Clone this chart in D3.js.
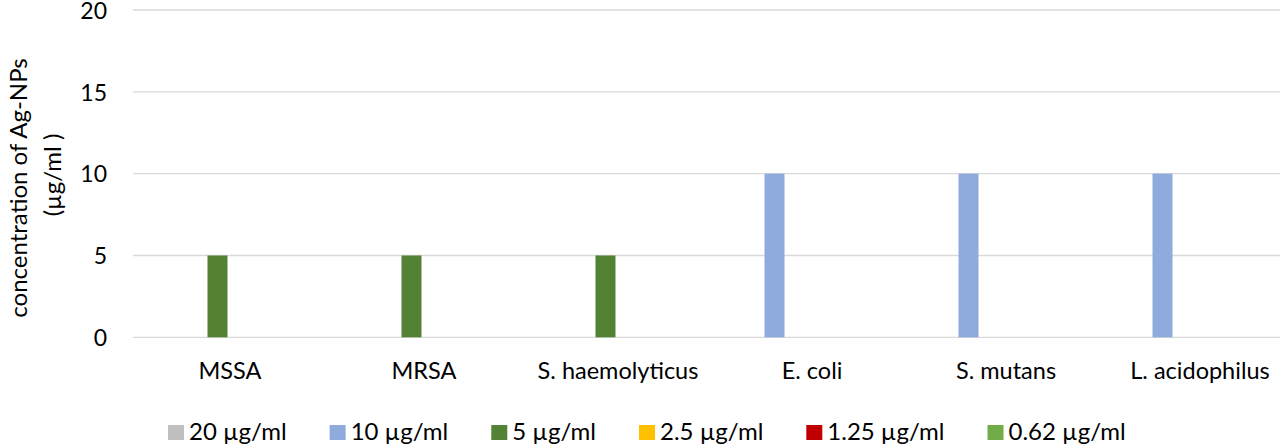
<!DOCTYPE html>
<html>
<head>
<meta charset="utf-8">
<script src="https://cdn.jsdelivr.net/npm/d3@7"></script>
<style>
  body { margin: 0; background: #fff; }
  text { font-family: Lato, "Open Sans", sans-serif; fill: #000; }
</style>
</head>
<body>
<script>
// data
var categories = ["MSSA", "MRSA", "S. haemolyticus", "E. coli", "S. mutans", "L. acidophilus"];
var seriesNames = ["20 \u00b5g/ml", "10 \u00b5g/ml", "5 \u00b5g/ml", "2.5 \u00b5g/ml", "1.25 \u00b5g/ml", "0.62 \u00b5g/ml"];
var conc20 = [0, 0, 0, 0, 0, 0];
var conc10 = [0, 0, 0, 10, 10, 10];
var conc5 = [5, 5, 5, 0, 0, 0];
var conc2_5 = [0, 0, 0, 0, 0, 0];
var conc1_25 = [0, 0, 0, 0, 0, 0];
var conc0_62 = [0, 0, 0, 0, 0, 0];
var yTicks = [0, 5, 10, 15, 20];

var colors = ["#bfbfbf", "#8faadc", "#548235", "#ffc000", "#c00000", "#70ad47"];
var allSeries = [conc20, conc10, conc5, conc2_5, conc1_25, conc0_62];

var width = 1280, height = 445;
var plot = { left: 133, right: 1297, top: 10, bottom: 337.3 };

var svg = d3.select("body").append("svg")
    .attr("width", width)
    .attr("height", height);

var x0 = d3.scaleBand().domain(categories).range([plot.left, plot.right]);
var x1 = d3.scaleBand().domain(d3.range(seriesNames.length))
    .range([0, x0.bandwidth()])
    .paddingInner(0.2)
    .paddingOuter(0.98);
var y = d3.scaleLinear().domain([0, 20]).range([plot.bottom, plot.top]);

// gridlines
svg.append("g")
    .selectAll("line")
    .data(yTicks)
    .enter()
    .append("line")
    .attr("x1", plot.left)
    .attr("x2", plot.right)
    .attr("y1", function (d) { return y(d); })
    .attr("y2", function (d) { return y(d); })
    .attr("stroke", "#d9d9d9")
    .attr("stroke-width", 1.3);

// y tick labels
var yAxis = d3.axisLeft(y).tickValues(yTicks).tickSize(0).tickPadding(0);
var gy = svg.append("g")
    .attr("transform", "translate(107,0)")
    .call(yAxis);
gy.select(".domain").remove();
gy.selectAll("text")
    .attr("dy", "0.36em")
    .style("font-family", "Lato, sans-serif")
    .style("font-size", "23px")
    .attr("fill", "#000");

// bars
var rows = [];
categories.forEach(function (c, ci) {
    allSeries.forEach(function (s, si) {
        rows.push({ cat: c, si: si, value: s[ci] });
    });
});

svg.append("g")
    .selectAll("rect")
    .data(rows.filter(function (d) { return d.value > 0; }))
    .enter()
    .append("rect")
    .attr("x", function (d) { return x0(d.cat) + x1(d.si); })
    .attr("y", function (d) { return y(d.value); })
    .attr("width", x1.bandwidth())
    .attr("height", function (d) { return y(0) - y(d.value); })
    .attr("fill", function (d) { return colors[d.si]; });

// category labels
var xAxis = d3.axisBottom(x0).tickSize(0).tickPadding(0);
var gx = svg.append("g")
    .attr("transform", "translate(0,362)")
    .call(xAxis);
gx.select(".domain").remove();
gx.selectAll("text")
    .attr("dy", "0.74em")
    .style("font-family", "Lato, sans-serif")
    .style("font-size", "23.5px")
    .attr("fill", "#000");

// y axis title
svg.append("text")
    .attr("transform", "translate(27,188) rotate(-90)")
    .attr("text-anchor", "middle")
    .style("font-size", "24px")
    .text("concentration of Ag-NPs");
svg.append("text")
    .attr("transform", "translate(61,175) rotate(-90)")
    .attr("text-anchor", "middle")
    .style("font-size", "24px")
    .text("(\u00b5g/ml )");

// legend
var legend = svg.append("g");
var lx = 168;
seriesNames.forEach(function (name, i) {
    legend.append("rect")
        .attr("x", lx)
        .attr("y", 425)
        .attr("width", 16)
        .attr("height", 15)
        .attr("fill", colors[i]);
    var t = legend.append("text")
        .attr("x", lx + 21)
        .attr("y", 440)
        .style("font-size", "24px")
        .text(name);
    lx = lx + 21 + t.node().getComputedTextLength() + 43;
});
</script>
</body>
</html>
